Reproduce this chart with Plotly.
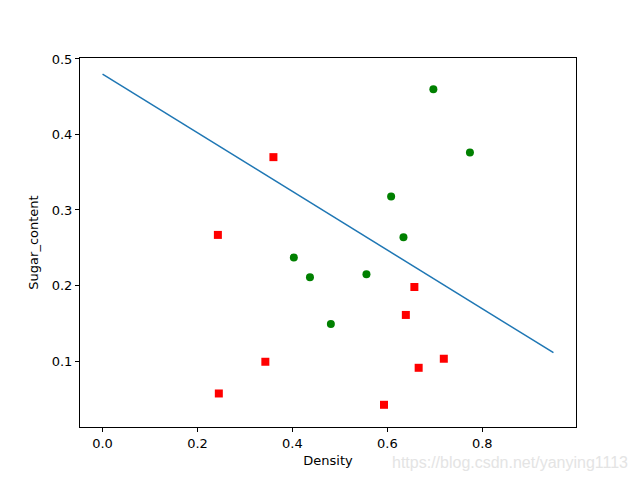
import plotly.graph_objects as go

# watermelon 3.0a: density / sugar content
good_density = [0.697, 0.774, 0.634, 0.608, 0.556, 0.403, 0.481, 0.437]
good_sugar = [0.460, 0.376, 0.264, 0.318, 0.215, 0.237, 0.149, 0.211]
bad_density = [0.666, 0.243, 0.245, 0.343, 0.639, 0.657, 0.360, 0.593, 0.719]
bad_sugar = [0.091, 0.267, 0.057, 0.099, 0.161, 0.198, 0.370, 0.042, 0.103]

# decision line endpoints
line_x = [0.0, 0.95]
line_y = [0.480, 0.111]

fig = go.Figure()
fig.add_trace(go.Scatter(x=line_x, y=line_y, mode='lines',
                         line=dict(color='#1f77b4', width=1.5)))
fig.add_trace(go.Scatter(x=good_density, y=good_sugar, mode='markers',
                         marker=dict(color='green', symbol='circle', size=8)))
fig.add_trace(go.Scatter(x=bad_density, y=bad_sugar, mode='markers',
                         marker=dict(color='red', symbol='square', size=8)))

axis_style = dict(showgrid=False, zeroline=False, showline=True, linecolor='black',
                  linewidth=1, mirror=True, ticks='outside', ticklen=4,
                  tickcolor='black', tickfont=dict(size=13, color='black'))

fig.update_layout(
    width=640, height=480,
    margin=dict(l=72, r=72, t=50, b=61),
    plot_bgcolor='white', paper_bgcolor='white',
    showlegend=False,
    font=dict(family='DejaVu Sans', size=13, color='black'),
    xaxis=dict(range=[-0.0475, 0.9975], tickvals=[0.0, 0.2, 0.4, 0.6, 0.8],
               ticktext=['0.0', '0.2', '0.4', '0.6', '0.8'],
               title=dict(text='Density', standoff=6, font=dict(size=13)), **axis_style),
    yaxis=dict(range=[0.0126, 0.5013], tickvals=[0.1, 0.2, 0.3, 0.4, 0.5],
               ticktext=['0.1', '0.2', '0.3', '0.4', '0.5'],
               title=dict(text='Sugar_content', standoff=10, font=dict(size=13)), **axis_style),
)

fig.add_annotation(text='https://blog.csdn.net/yanying1113', xref='paper', yref='paper',
                   x=1.109, y=-0.095, xanchor='right', yanchor='middle', showarrow=False,
                   font=dict(family='Liberation Sans', size=16, color='#e4e4e4'))

fig.write_html("out.html")
